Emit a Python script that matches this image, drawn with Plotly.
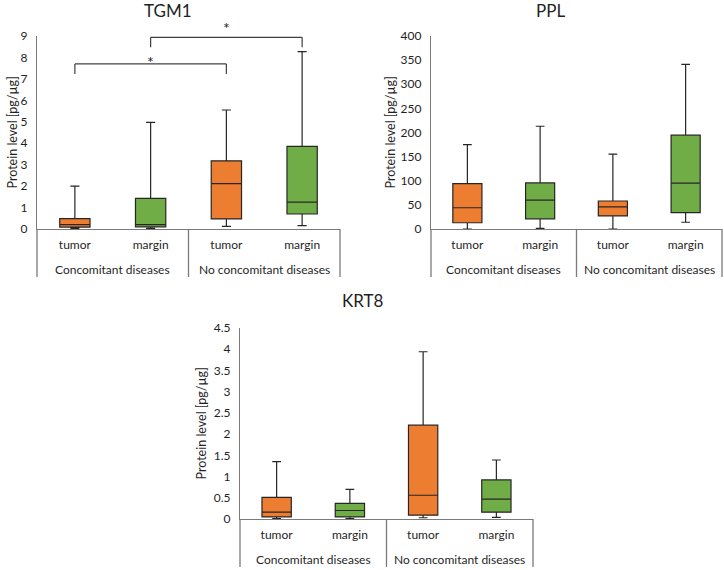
import plotly.graph_objects as go

# ---------------- data ----------------
group_names = ["Concomitant diseases", "No concomitant diseases"]
tissues = ["tumor", "margin", "tumor", "margin"]
box_colors = ["#ED7D31", "#70AD47", "#ED7D31", "#70AD47"]

tgm1_min = [0.03, 0.03, 0.12, 0.16]
tgm1_q1 = [0.09, 0.10, 0.47, 0.70]
tgm1_med = [0.20, 0.20, 2.12, 1.25]
tgm1_q3 = [0.48, 1.43, 3.18, 3.85]
tgm1_max = [2.00, 4.97, 5.55, 8.27]

ppl_min = [0, 1.5, 0, 14]
ppl_q1 = [13, 21, 27, 34]
ppl_med = [44, 60, 46, 95]
ppl_q3 = [94, 95.5, 58, 194.5]
ppl_max = [175, 213, 155, 341]

krt8_min = [0.01, 0.01, 0.03, 0.04]
krt8_q1 = [0.05, 0.05, 0.09, 0.16]
krt8_med = [0.16, 0.20, 0.56, 0.47]
krt8_q3 = [0.51, 0.37, 2.21, 0.92]
krt8_max = [1.35, 0.70, 3.94, 1.39]

# significance brackets for TGM1: (left box idx, right box idx, level, leg end)
tgm1_brackets = [(0, 2, 7.70, 7.23), (1, 3, 8.94, 8.47)]
tgm1_star_levels = [7.82, 9.40]

W, H = 724, 570
FONT = "Lato"
TXT = "#1f1f1f"
AXC = "#7a7a7a"

panels = [
    dict(name="TGM1", mn=tgm1_min, q1=tgm1_q1, med=tgm1_med, q3=tgm1_q3, mx=tgm1_max,
         ymax=9, dtick=1, px=(37, 340), py=(36, 229), title_xy=(168, 10), ytitle_x=12),
    dict(name="PPL", mn=ppl_min, q1=ppl_q1, med=ppl_med, q3=ppl_q3, mx=ppl_max,
         ymax=400, dtick=50, px=(431, 722), py=(36, 229), title_xy=(550, 10), ytitle_x=390),
    dict(name="KRT8", mn=krt8_min, q1=krt8_q1, med=krt8_med, q3=krt8_q3, mx=krt8_max,
         ymax=4.5, dtick=0.5, px=(240, 533), py=(328, 519), title_xy=(363, 300), ytitle_x=201),
]

fig = go.Figure()
annotations = []
shapes = []

for k, p in enumerate(panels):
    sfx = "" if k == 0 else str(k + 1)
    xa, ya = "x" + sfx, "y" + sfx
    for i in range(4):
        fig.add_trace(go.Box(
            x=[i],
            q1=[p["q1"][i]], median=[p["med"][i]], q3=[p["q3"][i]],
            lowerfence=[p["mn"][i]], upperfence=[p["mx"][i]],
            fillcolor=box_colors[i],
            line=dict(color="#262626", width=1.2),
            whiskerwidth=0.3, width=0.4, boxpoints=False,
            showlegend=False, hoverinfo="skip",
            xaxis=xa, yaxis=ya,
        ))
    x0, x1 = p["px"]
    y0, y1 = p["py"]
    ph = y1 - y0
    fig.update_layout(**{
        "xaxis" + sfx: dict(
            domain=[x0 / W, x1 / W], anchor=ya, automargin=False,
            range=[-0.5, 3.5], showline=True, linecolor=AXC, linewidth=1.3,
            tickvals=list(range(4)), ticktext=tissues,
            ticks="", showgrid=False, zeroline=False,
            ticklabelstandoff=4,
            tickfont=dict(family=FONT, size=12, color=TXT),
        ),
        "yaxis" + sfx: dict(
            domain=[1 - y1 / H, 1 - y0 / H], anchor=xa, automargin=False,
            range=[0, p["ymax"]], dtick=p["dtick"], tick0=0,
            showline=True, linecolor=AXC, linewidth=1.3,
            showgrid=False, zeroline=False, ticks="",
            ticklabelstandoff=6,
            tickfont=dict(family=FONT, size=12, color=TXT),
        ),
    })
    # group labels and dividers
    for g, gname in enumerate(group_names):
        annotations.append(dict(text=gname, x=(g + 0.5) / 2,
                                y=-40 / ph, xref=xa + " domain", yref=ya + " domain",
                                showarrow=False, xanchor="center", yanchor="middle",
                                font=dict(family=FONT, size=12, color=TXT)))
    for d in [0, 0.5, 1]:
        shapes.append(dict(type="line", xref=xa + " domain", yref=ya + " domain",
                           x0=d, x1=d, y0=0, y1=-48 / ph,
                           line=dict(color=AXC, width=1.3)))
    tx, ty = p["title_xy"]
    annotations.append(dict(text=p["name"], x=tx / W, y=1 - ty / H, xref="paper", yref="paper",
                            showarrow=False, xanchor="center", yanchor="middle",
                            font=dict(family=FONT, size=17, color=TXT)))
    annotations.append(dict(text="Protein level [pg/µg]", textangle=-90,
                            x=p["ytitle_x"] / W, y=1 - (y0 + y1) / 2 / H,
                            xref="paper", yref="paper", showarrow=False,
                            xanchor="center", yanchor="middle",
                            font=dict(family=FONT, size=12.5, color=TXT)))


def cat_frac(idx, n=4):
    return (idx + 0.5) / n


# TGM1 significance brackets
ymax0 = panels[0]["ymax"]
for (a, b, lvl, leg), star in zip(tgm1_brackets, tgm1_star_levels):
    for (xs, ys, xe, ye) in [(a, leg, a, lvl), (a, lvl, b, lvl), (b, lvl, b, leg)]:
        shapes.append(dict(type="line", xref="x domain", yref="y domain",
                           x0=cat_frac(xs), y0=ys / ymax0, x1=cat_frac(xe), y1=ye / ymax0,
                           line=dict(color="#404040", width=1.2)))
    annotations.append(dict(text="*", x=(cat_frac(a) + cat_frac(b)) / 2, y=star / ymax0,
                            xref="x domain", yref="y domain", showarrow=False,
                            xanchor="center", yanchor="middle",
                            font=dict(family=FONT, size=16, color=TXT)))

fig.update_layout(
    width=W, height=H, margin=dict(l=0, r=0, t=0, b=0),
    paper_bgcolor="white", plot_bgcolor="white",
    boxmode="overlay", annotations=annotations, shapes=shapes,
    font=dict(family=FONT, color=TXT),
)

fig.write_html("out.html")
